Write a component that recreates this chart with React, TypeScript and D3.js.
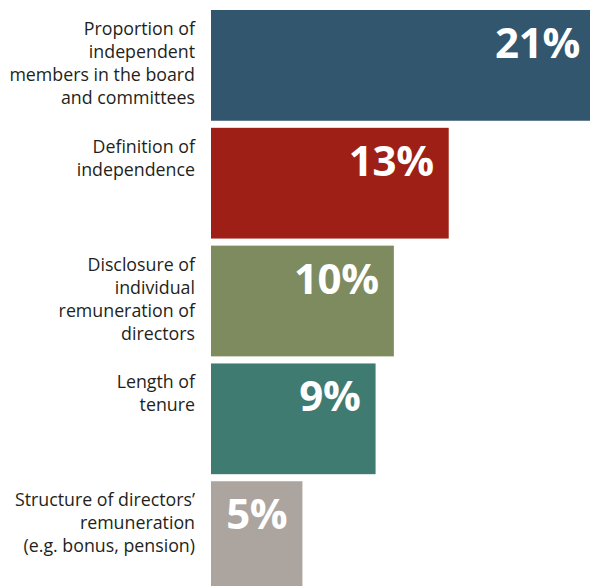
import React from "react";
import * as d3 from "d3";

const categories: string[][] = [
  ["Proportion of", "independent", "members in the board", "and committees"],
  ["Definition of", "independence"],
  ["Disclosure of", "individual", "remuneration of", "directors"],
  ["Length of", "tenure"],
  ["Structure of directors’", "remuneration", "(e.g. bonus, pension)"],
];
const values: number[] = [21, 13, 10, 9, 5];
const valueLabels: string[] = ["21%", "13%", "10%", "9%", "5%"];
const colors: string[] = ["#31566e", "#9d1f16", "#7e8b5f", "#407b72", "#aca59f"];

const W = 590;
const H = 586;
const FONT = "'Open Sans', 'Noto Sans', sans-serif";

export default function App() {
  const ids = values.map((_, i) => String(i));
  const y = d3.scaleBand<string>().domain(ids).range([10, 592]).paddingInner(0.06).paddingOuter(0);
  const x = d3.scaleLinear().domain([0, 21]).range([211, 595]);

  return (
    <svg
      width={W}
      height={H}
      style={{ position: "absolute", left: 0, top: 0, background: "#fff" }}
      fontFamily={FONT}
    >
      {values.map((v, i) => {
        const y0 = y(String(i))!;
        return (
          <g key={i}>
            <rect x={x(0)} y={y0} width={x(v) - x(0)} height={y.bandwidth()} fill={colors[i]} />
            <text
              x={x(v) - 15}
              y={y0 + 48}
              textAnchor="end"
              fill="#fff"
              fontWeight={700}
              fontSize={42}
              letterSpacing={-0.3}
            >
              {valueLabels[i]}
            </text>
            <text textAnchor="end" fill="#231f20" fontSize={17.8}>
              {categories[i].map((line, j) => (
                <tspan key={j} x={195} y={y0 + 25 + j * 23}>
                  {line}
                </tspan>
              ))}
            </text>
          </g>
        );
      })}
    </svg>
  );
}
